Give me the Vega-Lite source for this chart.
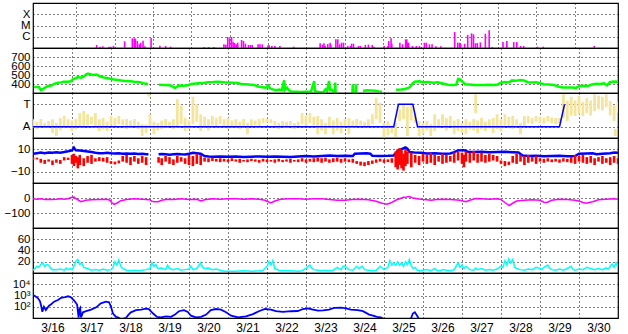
{
"$schema":"https://vega.github.io/schema/vega-lite/v6.json",
"padding":{"left":0,"top":2,"right":11,"bottom":0},
"background":"white",
"spacing":0,
"bounds":"flush",
"config":{"view":{"stroke":"black","strokeWidth":1.2},
"axis":{"ticks":false,"domain":false,"labelFont":"Liberation Sans","labelFontSize":11.5,"labelColor":"black","gridColor":"black","gridDash":[1,3],"gridOpacity":1,"gridWidth":1,"labelPadding":3,"labelOverlap":false},
"axisY":{"minExtent":32,"maxExtent":32},
"concat":{"spacing":0}},
"datasets":{
"flares":[{"t":17.53,"v":0.27},{"t":17.62,"v":0.12},{"t":17.69,"v":0.15},{"t":17.85,"v":0.12},{"t":17.9,"v":0.12},{"t":17.97,"v":0.18},{"t":18.26,"v":0.6},{"t":18.46,"v":0.86},{"t":18.51,"v":0.86},{"t":18.54,"v":0.83},{"t":18.59,"v":0.62},{"t":18.64,"v":0.33},{"t":18.68,"v":0.47},{"t":18.74,"v":0.65},{"t":18.79,"v":0.15},{"t":18.95,"v":0.89},{"t":19.18,"v":0.2},{"t":19.33,"v":0.18},{"t":19.46,"v":0.12},{"t":20.33,"v":0.09},{"t":20.45,"v":0.09},{"t":20.59,"v":0.09},{"t":20.85,"v":0.33},{"t":20.9,"v":0.3},{"t":20.95,"v":0.98},{"t":21.0,"v":0.86},{"t":21.05,"v":0.98},{"t":21.09,"v":0.53},{"t":21.13,"v":0.44},{"t":21.17,"v":0.33},{"t":21.21,"v":0.47},{"t":21.31,"v":0.71},{"t":21.36,"v":0.62},{"t":21.41,"v":0.38},{"t":21.49,"v":0.27},{"t":21.54,"v":0.27},{"t":21.59,"v":0.27},{"t":21.74,"v":0.33},{"t":21.79,"v":0.33},{"t":21.85,"v":0.33},{"t":22.0,"v":0.24},{"t":22.03,"v":0.24},{"t":22.1,"v":0.18},{"t":22.18,"v":0.18},{"t":22.31,"v":0.18},{"t":22.67,"v":0.12},{"t":23.36,"v":0.42},{"t":23.42,"v":0.3},{"t":23.46,"v":0.42},{"t":23.49,"v":0.2},{"t":23.56,"v":0.36},{"t":23.62,"v":0.47},{"t":23.64,"v":0.3},{"t":23.77,"v":0.77},{"t":23.82,"v":0.77},{"t":23.87,"v":0.33},{"t":23.92,"v":0.47},{"t":23.97,"v":0.47},{"t":24.08,"v":0.18},{"t":24.15,"v":0.18},{"t":24.18,"v":0.38},{"t":24.23,"v":0.38},{"t":24.36,"v":0.18},{"t":24.41,"v":0.18},{"t":24.54,"v":0.27},{"t":24.62,"v":0.3},{"t":24.72,"v":0.27},{"t":24.77,"v":0.12},{"t":25.03,"v":0.18},{"t":25.13,"v":0.18},{"t":25.15,"v":0.62},{"t":25.21,"v":0.86},{"t":25.23,"v":0.38},{"t":25.44,"v":0.47},{"t":25.51,"v":0.33},{"t":25.59,"v":0.77},{"t":25.62,"v":0.77},{"t":25.64,"v":0.47},{"t":25.67,"v":0.47},{"t":25.77,"v":0.18},{"t":25.87,"v":0.18},{"t":25.95,"v":0.18},{"t":26.08,"v":0.47},{"t":26.13,"v":0.47},{"t":26.21,"v":0.33},{"t":26.28,"v":0.33},{"t":26.38,"v":0.15},{"t":26.51,"v":0.15},{"t":26.87,"v":1.42},{"t":26.95,"v":0.47},{"t":27.0,"v":0.47},{"t":27.03,"v":0.33},{"t":27.13,"v":0.38},{"t":27.21,"v":1.16},{"t":27.31,"v":1.3},{"t":27.36,"v":1.22},{"t":27.41,"v":0.42},{"t":27.46,"v":0.44},{"t":27.54,"v":0.5},{"t":27.67,"v":1.27},{"t":27.77,"v":1.57},{"t":27.85,"v":0.09},{"t":28.13,"v":0.53},{"t":28.23,"v":0.62},{"t":28.41,"v":0.53},{"t":28.49,"v":0.53},{"t":28.59,"v":0.18},{"t":28.67,"v":0.18},{"t":29.03,"v":0.12},{"t":29.18,"v":0.12},{"t":30.51,"v":0.18}],
"speed":[{"s":"a","t":16.03,"v":367},{"s":"a","t":16.15,"v":367},{"s":"a","t":16.21,"v":330},{"s":"a","t":16.28,"v":352},{"s":"a","t":16.38,"v":378},{"s":"a","t":16.46,"v":380},{"s":"a","t":16.54,"v":400},{"s":"a","t":16.64,"v":415},{"s":"a","t":16.72,"v":418},{"s":"a","t":16.79,"v":426},{"s":"a","t":16.9,"v":424},{"s":"a","t":16.97,"v":430},{"s":"a","t":17.03,"v":455},{"s":"a","t":17.1,"v":465},{"s":"a","t":17.15,"v":478},{"s":"a","t":17.23,"v":470},{"s":"a","t":17.31,"v":485},{"s":"a","t":17.36,"v":505},{"s":"a","t":17.41,"v":515},{"s":"a","t":17.46,"v":510},{"s":"a","t":17.54,"v":500},{"s":"a","t":17.62,"v":505},{"s":"a","t":17.67,"v":495},{"s":"a","t":17.74,"v":480},{"s":"a","t":17.82,"v":472},{"s":"a","t":17.92,"v":465},{"s":"a","t":18.0,"v":455},{"s":"a","t":18.08,"v":450},{"s":"a","t":18.18,"v":445},{"s":"a","t":18.26,"v":440},{"s":"a","t":18.38,"v":432},{"s":"a","t":18.51,"v":430},{"s":"a","t":18.59,"v":425},{"s":"a","t":18.69,"v":422},{"s":"a","t":18.77,"v":418},{"s":"a","t":18.85,"v":405},{"s":"a","t":18.95,"v":400},
{"s":"b","t":19.23,"v":392},{"s":"b","t":19.36,"v":390},{"s":"b","t":19.49,"v":388},{"s":"b","t":19.59,"v":370},{"s":"b","t":19.64,"v":355},{"s":"b","t":19.69,"v":370},{"s":"b","t":19.74,"v":382},{"s":"b","t":19.87,"v":380},{"s":"b","t":19.97,"v":385},{"s":"b","t":20.05,"v":400},{"s":"b","t":20.18,"v":405},{"s":"b","t":20.31,"v":410},{"s":"b","t":20.38,"v":412},{"s":"b","t":20.49,"v":420},{"s":"b","t":20.62,"v":422},{"s":"b","t":20.74,"v":425},{"s":"b","t":20.9,"v":420},{"s":"b","t":21.0,"v":418},{"s":"b","t":21.13,"v":415},{"s":"b","t":21.26,"v":410},{"s":"b","t":21.33,"v":400},{"s":"b","t":21.46,"v":396},{"s":"b","t":21.59,"v":393},{"s":"b","t":21.67,"v":390},{"s":"b","t":21.77,"v":372},{"s":"b","t":21.85,"v":367},{"s":"b","t":21.92,"v":362},{"s":"b","t":21.97,"v":360},{"s":"b","t":22.03,"v":385},{"s":"b","t":22.08,"v":350},{"s":"b","t":22.15,"v":340},{"s":"b","t":22.23,"v":332},{"s":"b","t":22.31,"v":338},{"s":"b","t":22.38,"v":330},{"s":"b","t":22.44,"v":441},{"s":"b","t":22.46,"v":335},{"s":"b","t":22.51,"v":360},{"s":"b","t":22.56,"v":330},{"s":"b","t":22.62,"v":318},{"s":"b","t":22.74,"v":315},{"s":"b","t":22.87,"v":312},{"s":"b","t":23.0,"v":315},{"s":"b","t":23.13,"v":318},{"s":"b","t":23.21,"v":433},{"s":"b","t":23.23,"v":320},{"s":"b","t":23.33,"v":312},{"s":"b","t":23.44,"v":305},{"s":"b","t":23.5,"v":341},{"s":"b","t":23.54,"v":320},{"s":"b","t":23.59,"v":433},{"s":"b","t":23.62,"v":330},{"s":"b","t":23.67,"v":335},{"s":"b","t":23.72,"v":310},
{"s":"c","t":23.74,"v":300},{"s":"c","t":23.75,"v":415},{"s":"c","t":23.76,"v":300},
{"s":"d","t":24.19,"v":300},{"s":"d","t":24.2,"v":396},{"s":"d","t":24.21,"v":300},
{"s":"e","t":24.27,"v":300},{"s":"e","t":24.28,"v":396},{"s":"e","t":24.29,"v":300},
{"s":"f","t":24.46,"v":322},{"s":"f","t":24.56,"v":330},{"s":"f","t":24.67,"v":328},{"s":"f","t":24.77,"v":325},{"s":"f","t":24.87,"v":318},{"s":"f","t":24.95,"v":315},
{"s":"g","t":25.31,"v":335},{"s":"g","t":25.44,"v":340},{"s":"g","t":25.54,"v":345},{"s":"g","t":25.64,"v":360},{"s":"g","t":25.69,"v":378},{"s":"g","t":25.74,"v":410},{"s":"g","t":25.79,"v":426},{"s":"g","t":25.9,"v":430},{"s":"g","t":26.0,"v":420},{"s":"g","t":26.13,"v":422},{"s":"g","t":26.26,"v":415},{"s":"g","t":26.38,"v":420},{"s":"g","t":26.51,"v":405},{"s":"g","t":26.64,"v":392},{"s":"g","t":26.77,"v":388},{"s":"g","t":26.85,"v":390},{"s":"g","t":26.9,"v":455},{"s":"g","t":26.95,"v":450},{"s":"g","t":27.0,"v":430},{"s":"g","t":27.08,"v":398},{"s":"g","t":27.18,"v":395},{"s":"g","t":27.31,"v":388},{"s":"g","t":27.44,"v":390},{"s":"g","t":27.56,"v":388},{"s":"g","t":27.69,"v":392},{"s":"g","t":27.82,"v":390},{"s":"g","t":27.92,"v":395},{"s":"g","t":28.0,"v":415},{"s":"g","t":28.1,"v":422},{"s":"g","t":28.21,"v":418},{"s":"g","t":28.28,"v":440},{"s":"g","t":28.38,"v":435},{"s":"g","t":28.49,"v":445},{"s":"g","t":28.59,"v":438},{"s":"g","t":28.69,"v":420},{"s":"g","t":28.79,"v":418},{"s":"g","t":28.9,"v":420},{"s":"g","t":29.0,"v":410},{"s":"g","t":29.1,"v":398},{"s":"g","t":29.23,"v":395},{"s":"g","t":29.36,"v":390},{"s":"g","t":29.46,"v":372},{"s":"g","t":29.59,"v":362},{"s":"g","t":29.72,"v":360},{"s":"g","t":29.85,"v":362},{"s":"g","t":29.92,"v":355},{"s":"g","t":30.0,"v":375},{"s":"g","t":30.1,"v":380},{"s":"g","t":30.23,"v":378},{"s":"g","t":30.33,"v":395},{"s":"g","t":30.44,"v":402},{"s":"g","t":30.54,"v":400},{"s":"g","t":30.64,"v":408},{"s":"g","t":30.72,"v":385},{"s":"g","t":30.79,"v":420},{"s":"g","t":30.9,"v":428},{"s":"g","t":31.0,"v":425}],
"phi":[{"t":16.0,"lo":80,"hi":150},{"t":16.1,"lo":72,"hi":130},{"t":16.2,"lo":90,"hi":152},{"t":16.3,"lo":80,"hi":120},{"t":16.4,"lo":95,"hi":136},{"t":16.5,"lo":40,"hi":150},{"t":16.6,"lo":16,"hi":120},{"t":16.7,"lo":60,"hi":160},{"t":16.8,"lo":85,"hi":176},{"t":16.9,"lo":80,"hi":150},{"t":17.0,"lo":56,"hi":140},{"t":17.1,"lo":70,"hi":152},{"t":17.2,"lo":90,"hi":200},{"t":17.3,"lo":80,"hi":216},{"t":17.4,"lo":100,"hi":190},{"t":17.5,"lo":110,"hi":170},{"t":17.6,"lo":80,"hi":200},{"t":17.7,"lo":56,"hi":150},{"t":17.8,"lo":70,"hi":160},{"t":17.9,"lo":56,"hi":130},{"t":18.0,"lo":100,"hi":176},{"t":18.1,"lo":96,"hi":160},{"t":18.2,"lo":110,"hi":176},{"t":18.3,"lo":100,"hi":150},{"t":18.4,"lo":72,"hi":152},{"t":18.5,"lo":80,"hi":140},{"t":18.6,"lo":90,"hi":152},{"t":18.7,"lo":72,"hi":130},{"t":18.8,"lo":16,"hi":112},{"t":18.9,"lo":40,"hi":110},{"t":18.97,"lo":330,"hi":352},{"t":19.0,"lo":80,"hi":190},{"t":19.1,"lo":30,"hi":130},{"t":19.2,"lo":60,"hi":120},{"t":19.3,"lo":72,"hi":140},{"t":19.4,"lo":80,"hi":152},{"t":19.5,"lo":90,"hi":130},{"t":19.6,"lo":72,"hi":150},{"t":19.7,"lo":80,"hi":310},{"t":19.8,"lo":110,"hi":260},{"t":19.9,"lo":56,"hi":160},{"t":20.0,"lo":70,"hi":140},{"t":20.1,"lo":110,"hi":330},{"t":20.2,"lo":130,"hi":270},{"t":20.3,"lo":56,"hi":190},{"t":20.4,"lo":80,"hi":170},{"t":20.5,"lo":60,"hi":150},{"t":20.6,"lo":100,"hi":176},{"t":20.7,"lo":80,"hi":160},{"t":20.8,"lo":110,"hi":176},{"t":20.9,"lo":90,"hi":150},{"t":21.0,"lo":72,"hi":160},{"t":21.1,"lo":80,"hi":140},{"t":21.2,"lo":96,"hi":150},{"t":21.3,"lo":72,"hi":130},{"t":21.4,"lo":80,"hi":152},{"t":21.5,"lo":30,"hi":120},{"t":21.6,"lo":90,"hi":150},{"t":21.7,"lo":100,"hi":140},{"t":21.8,"lo":80,"hi":152},{"t":21.9,"lo":120,"hi":160},{"t":22.0,"lo":125,"hi":155},{"t":22.1,"lo":120,"hi":150},{"t":22.2,"lo":100,"hi":136},{"t":22.3,"lo":72,"hi":120},{"t":22.4,"lo":90,"hi":136},{"t":22.5,"lo":80,"hi":130},{"t":22.6,"lo":100,"hi":136},{"t":22.7,"lo":72,"hi":120},{"t":22.8,"lo":90,"hi":130},{"t":22.9,"lo":110,"hi":200},{"t":23.0,"lo":96,"hi":180},{"t":23.1,"lo":120,"hi":200},{"t":23.2,"lo":100,"hi":170},{"t":23.3,"lo":30,"hi":176},{"t":23.4,"lo":60,"hi":150},{"t":23.5,"lo":30,"hi":120},{"t":23.6,"lo":80,"hi":170},{"t":23.7,"lo":30,"hi":140},{"t":23.8,"lo":60,"hi":160},{"t":23.9,"lo":40,"hi":130},{"t":24.0,"lo":90,"hi":150},{"t":24.1,"lo":30,"hi":160},{"t":24.2,"lo":80,"hi":140},{"t":24.3,"lo":90,"hi":152},{"t":24.4,"lo":100,"hi":140},{"t":24.5,"lo":80,"hi":130},{"t":24.6,"lo":95,"hi":150},{"t":24.7,"lo":110,"hi":190},{"t":24.8,"lo":150,"hi":320},{"t":24.9,"lo":120,"hi":280},{"t":25.0,"lo":0,"hi":120},{"t":25.1,"lo":20,"hi":136},{"t":25.2,"lo":40,"hi":100},{"t":25.3,"lo":10,"hi":120},{"t":25.4,"lo":136,"hi":230},{"t":25.5,"lo":150,"hi":270},{"t":25.6,"lo":16,"hi":250},{"t":25.7,"lo":140,"hi":260},{"t":25.8,"lo":120,"hi":200},{"t":25.9,"lo":16,"hi":136},{"t":26.0,"lo":30,"hi":120},{"t":26.1,"lo":60,"hi":136},{"t":26.2,"lo":16,"hi":110},{"t":26.3,"lo":56,"hi":190},{"t":26.4,"lo":80,"hi":150},{"t":26.5,"lo":100,"hi":190},{"t":26.6,"lo":60,"hi":160},{"t":26.7,"lo":90,"hi":176},{"t":26.8,"lo":30,"hi":140},{"t":26.9,"lo":56,"hi":152},{"t":27.0,"lo":40,"hi":120},{"t":27.1,"lo":30,"hi":150},{"t":27.2,"lo":70,"hi":130},{"t":27.3,"lo":60,"hi":152},{"t":27.35,"lo":200,"hi":350},{"t":27.4,"lo":40,"hi":140},{"t":27.5,"lo":70,"hi":160},{"t":27.6,"lo":56,"hi":130},{"t":27.7,"lo":80,"hi":150},{"t":27.8,"lo":40,"hi":160},{"t":27.9,"lo":70,"hi":190},{"t":28.0,"lo":56,"hi":150},{"t":28.1,"lo":100,"hi":190},{"t":28.2,"lo":80,"hi":170},{"t":28.3,"lo":72,"hi":176},{"t":28.4,"lo":100,"hi":150},{"t":28.5,"lo":30,"hi":120},{"t":28.6,"lo":90,"hi":176},{"t":28.7,"lo":120,"hi":176},{"t":28.8,"lo":110,"hi":160},{"t":28.9,"lo":130,"hi":176},{"t":29.0,"lo":120,"hi":170},{"t":29.1,"lo":115,"hi":160},{"t":29.2,"lo":130,"hi":176},{"t":29.3,"lo":120,"hi":165},{"t":29.4,"lo":110,"hi":160},{"t":29.5,"lo":120,"hi":160},{"t":29.6,"lo":160,"hi":350},{"t":29.7,"lo":136,"hi":300},{"t":29.8,"lo":180,"hi":330},{"t":29.9,"lo":176,"hi":300},{"t":30.0,"lo":190,"hi":336},{"t":30.1,"lo":176,"hi":290},{"t":30.2,"lo":200,"hi":320},{"t":30.3,"lo":180,"hi":300},{"t":30.4,"lo":216,"hi":350},{"t":30.5,"lo":230,"hi":340},{"t":30.6,"lo":220,"hi":330},{"t":30.7,"lo":250,"hi":350},{"t":30.8,"lo":180,"hi":296},{"t":30.9,"lo":136,"hi":260},{"t":30.93,"lo":16,"hi":72},{"t":31.0,"lo":200,"hi":290}],
"sector":[{"t":16.0,"v":90},{"t":25.25,"v":90},{"t":25.37,"v":270},{"t":25.74,"v":270},{"t":25.86,"v":90},{"t":29.5,"v":90},{"t":29.63,"v":270}],
"bt":[{"s":"a","t":16.0,"v":6.0},{"s":"a","t":16.1,"v":6.5},{"s":"a","t":16.2,"v":7.0},{"s":"a","t":16.3,"v":6.5},{"s":"a","t":16.4,"v":7.2},{"s":"a","t":16.5,"v":7.0},{"s":"a","t":16.6,"v":7.3},{"s":"a","t":16.7,"v":7.0},{"s":"a","t":16.8,"v":7.5},{"s":"a","t":16.9,"v":8.2},{"s":"a","t":17.0,"v":9.0},{"s":"a","t":17.05,"v":11.4},{"s":"a","t":17.1,"v":9.0},{"s":"a","t":17.2,"v":8.8},{"s":"a","t":17.3,"v":8.4},{"s":"a","t":17.4,"v":8.0},{"s":"a","t":17.5,"v":7.5},{"s":"a","t":17.6,"v":6.8},{"s":"a","t":17.7,"v":6.4},{"s":"a","t":17.8,"v":6.5},{"s":"a","t":17.9,"v":6.8},{"s":"a","t":18.0,"v":6.4},{"s":"a","t":18.1,"v":6.2},{"s":"a","t":18.2,"v":6.5},{"s":"a","t":18.3,"v":6.0},{"s":"a","t":18.4,"v":6.2},{"s":"a","t":18.5,"v":6.0},{"s":"a","t":18.6,"v":6.3},{"s":"a","t":18.7,"v":5.8},{"s":"a","t":18.8,"v":6.0},{"s":"a","t":18.9,"v":5.5},{"s":"a","t":18.96,"v":5.5},
{"s":"b","t":19.22,"v":5.5},{"s":"b","t":19.3,"v":5.8},{"s":"b","t":19.4,"v":5.5},{"s":"b","t":19.5,"v":5.2},{"s":"b","t":19.6,"v":5.5},{"s":"b","t":19.7,"v":5.8},{"s":"b","t":19.8,"v":5.5},{"s":"b","t":19.9,"v":5.3},{"s":"b","t":20.0,"v":6.0},{"s":"b","t":20.1,"v":6.8},{"s":"b","t":20.2,"v":6.5},{"s":"b","t":20.3,"v":6.0},{"s":"b","t":20.4,"v":4.0},{"s":"b","t":20.5,"v":3.5},{"s":"b","t":20.6,"v":3.4},{"s":"b","t":20.8,"v":3.6},{"s":"b","t":21.0,"v":3.3},{"s":"b","t":21.2,"v":3.5},{"s":"b","t":21.4,"v":3.2},{"s":"b","t":21.6,"v":3.4},{"s":"b","t":21.8,"v":3.6},{"s":"b","t":22.0,"v":3.3},{"s":"b","t":22.2,"v":3.5},{"s":"b","t":22.4,"v":3.4},{"s":"b","t":22.6,"v":3.2},{"s":"b","t":22.8,"v":3.6},{"s":"b","t":23.0,"v":4.0},{"s":"b","t":23.2,"v":3.6},{"s":"b","t":23.4,"v":4.0},{"s":"b","t":23.6,"v":4.5},{"s":"b","t":23.8,"v":4.0},{"s":"b","t":24.0,"v":4.2},{"s":"b","t":24.2,"v":4.0},{"s":"b","t":24.25,"v":6.0},{"s":"b","t":24.4,"v":6.2},{"s":"b","t":24.55,"v":6.4},{"s":"b","t":24.65,"v":6.0},{"s":"b","t":24.7,"v":4.2},{"s":"b","t":24.9,"v":4.0},{"s":"b","t":25.1,"v":4.2},{"s":"b","t":25.25,"v":4.5},{"s":"b","t":25.35,"v":8.4},{"s":"b","t":25.45,"v":10},{"s":"b","t":25.55,"v":11.6},{"s":"b","t":25.6,"v":10.5},{"s":"b","t":25.65,"v":7.5},{"s":"b","t":25.8,"v":7.0},{"s":"b","t":25.95,"v":6.8},{"s":"b","t":26.1,"v":6.2},{"s":"b","t":26.3,"v":6.4},{"s":"b","t":26.5,"v":6.0},{"s":"b","t":26.7,"v":6.3},{"s":"b","t":26.8,"v":7.5},{"s":"b","t":26.9,"v":9.0},{"s":"b","t":27.05,"v":9.2},{"s":"b","t":27.15,"v":7.8},{"s":"b","t":27.3,"v":7.6},{"s":"b","t":27.5,"v":7.8},{"s":"b","t":27.7,"v":7.4},{"s":"b","t":27.9,"v":7.6},{"s":"b","t":28.1,"v":7.8},{"s":"b","t":28.3,"v":7.4},{"s":"b","t":28.45,"v":7.2},{"s":"b","t":28.55,"v":4.5},{"s":"b","t":28.7,"v":4.0},{"s":"b","t":28.9,"v":4.2},{"s":"b","t":29.1,"v":3.8},{"s":"b","t":29.3,"v":4.0},{"s":"b","t":29.5,"v":4.2},{"s":"b","t":29.7,"v":3.8},{"s":"b","t":29.9,"v":4.0},{"s":"b","t":30.0,"v":6.0},{"s":"b","t":30.2,"v":6.2},{"s":"b","t":30.35,"v":6.4},{"s":"b","t":30.45,"v":5.5},{"s":"b","t":30.6,"v":6.0},{"s":"b","t":30.8,"v":6.5},{"s":"b","t":30.9,"v":7.2},{"s":"b","t":31.0,"v":6.8}],
"bz":[{"t":16.0,"lo":0.5,"hi":3},{"t":16.1,"lo":1,"hi":2.5},{"t":16.2,"lo":-2,"hi":1.5},{"t":16.3,"lo":-3,"hi":0.5},{"t":16.4,"lo":-1,"hi":1},{"t":16.5,"lo":-4,"hi":0},{"t":16.6,"lo":-2,"hi":1},{"t":16.7,"lo":-3,"hi":0.5},{"t":16.8,"lo":0,"hi":3},{"t":16.9,"lo":0.5,"hi":2.5},{"t":17.0,"lo":-3,"hi":5},{"t":17.05,"lo":-5,"hi":6},{"t":17.1,"lo":-2,"hi":4},{"t":17.15,"lo":-7,"hi":3},{"t":17.2,"lo":-4,"hi":5},{"t":17.3,"lo":-5,"hi":2},{"t":17.4,"lo":-2,"hi":4},{"t":17.5,"lo":-3,"hi":5},{"t":17.6,"lo":-1,"hi":2},{"t":17.7,"lo":-0.5,"hi":3},{"t":17.8,"lo":-1,"hi":2.5},{"t":17.9,"lo":-2,"hi":3},{"t":18.0,"lo":-3,"hi":-0.5},{"t":18.1,"lo":-3.5,"hi":-1},{"t":18.2,"lo":-2.5,"hi":0},{"t":18.3,"lo":-1,"hi":4},{"t":18.4,"lo":-2,"hi":5},{"t":18.5,"lo":-4,"hi":3},{"t":18.6,"lo":-1,"hi":4},{"t":18.7,"lo":-3,"hi":2},{"t":18.8,"lo":-2,"hi":4},{"t":18.9,"lo":-4,"hi":3},{"t":19.22,"lo":-2,"hi":3},{"t":19.3,"lo":-4,"hi":2},{"t":19.4,"lo":-1,"hi":4},{"t":19.5,"lo":-3,"hi":3},{"t":19.6,"lo":-4,"hi":1},{"t":19.7,"lo":-2,"hi":4},{"t":19.8,"lo":-1,"hi":3},{"t":19.9,"lo":-3,"hi":2},{"t":20.0,"lo":-4,"hi":5},{"t":20.1,"lo":-5,"hi":4},{"t":20.2,"lo":-3,"hi":6},{"t":20.3,"lo":-4,"hi":5},{"t":20.4,"lo":-1,"hi":2.5},{"t":20.5,"lo":-1.5,"hi":2},{"t":20.6,"lo":-0.5,"hi":2.5},{"t":20.7,"lo":-1,"hi":1.5},{"t":20.8,"lo":-1.5,"hi":2},{"t":20.9,"lo":-1,"hi":1.5},{"t":21.0,"lo":-1.5,"hi":1},{"t":21.1,"lo":-0.5,"hi":2},{"t":21.2,"lo":-1,"hi":1},{"t":21.3,"lo":-2,"hi":1.5},{"t":21.4,"lo":-1,"hi":0.5},{"t":21.5,"lo":-1.5,"hi":1},{"t":21.6,"lo":-0.5,"hi":1.5},{"t":21.7,"lo":-1,"hi":1},{"t":21.8,"lo":-2,"hi":0.5},{"t":21.9,"lo":-1,"hi":1.5},{"t":22.0,"lo":-1.5,"hi":1},{"t":22.1,"lo":-1,"hi":0.5},{"t":22.2,"lo":-2,"hi":1},{"t":22.3,"lo":-1,"hi":1.5},{"t":22.4,"lo":-1.5,"hi":0.5},{"t":22.5,"lo":-1,"hi":1},{"t":22.6,"lo":-2,"hi":1.5},{"t":22.7,"lo":-1,"hi":0.5},{"t":22.8,"lo":-1.5,"hi":1},{"t":22.9,"lo":-1,"hi":2},{"t":23.0,"lo":-2,"hi":1},{"t":23.1,"lo":-1,"hi":1.5},{"t":23.2,"lo":-1.5,"hi":2},{"t":23.3,"lo":-1,"hi":2.5},{"t":23.4,"lo":-2,"hi":2},{"t":23.5,"lo":-1,"hi":2.5},{"t":23.6,"lo":-2,"hi":1},{"t":23.7,"lo":-1.5,"hi":2},{"t":23.8,"lo":-1,"hi":2.5},{"t":23.9,"lo":-2,"hi":1.5},{"t":24.0,"lo":-1,"hi":2},{"t":24.1,"lo":-1.5,"hi":1},{"t":24.2,"lo":-2,"hi":1.5},{"t":24.3,"lo":-3,"hi":-0.5},{"t":24.4,"lo":-4.5,"hi":-1},{"t":24.5,"lo":-5,"hi":-1.5},{"t":24.6,"lo":-4,"hi":-0.5},{"t":24.7,"lo":-3,"hi":0},{"t":24.8,"lo":-2,"hi":1},{"t":24.9,"lo":-1,"hi":1.5},{"t":25.0,"lo":-2,"hi":1},{"t":25.1,"lo":-1.5,"hi":1},{"t":25.2,"lo":-2,"hi":2},{"t":25.3,"lo":-6,"hi":8},{"t":25.35,"lo":-8,"hi":10},{"t":25.4,"lo":-4,"hi":11},{"t":25.45,"lo":-7,"hi":9},{"t":25.5,"lo":-9,"hi":6},{"t":25.55,"lo":-5,"hi":10},{"t":25.6,"lo":-3,"hi":8},{"t":25.7,"lo":-6,"hi":7},{"t":25.8,"lo":-2,"hi":5},{"t":25.9,"lo":-4,"hi":4},{"t":26.0,"lo":-1,"hi":6},{"t":26.1,"lo":-3,"hi":5},{"t":26.2,"lo":-2,"hi":7},{"t":26.3,"lo":-4,"hi":5},{"t":26.4,"lo":-1,"hi":4},{"t":26.5,"lo":-3,"hi":6},{"t":26.6,"lo":-2,"hi":5},{"t":26.7,"lo":-1,"hi":4},{"t":26.8,"lo":-2,"hi":7},{"t":26.9,"lo":0,"hi":8},{"t":27.0,"lo":-3,"hi":7},{"t":27.05,"lo":-6,"hi":5},{"t":27.1,"lo":-1,"hi":8},{"t":27.2,"lo":-2,"hi":7},{"t":27.3,"lo":0,"hi":8.5},{"t":27.4,"lo":-2,"hi":6},{"t":27.5,"lo":-1,"hi":7},{"t":27.6,"lo":-2,"hi":5},{"t":27.7,"lo":-1,"hi":6},{"t":27.8,"lo":0,"hi":5},{"t":27.9,"lo":-1,"hi":4},{"t":28.0,"lo":-3,"hi":0},{"t":28.1,"lo":-5,"hi":-0.5},{"t":28.2,"lo":-4,"hi":-1},{"t":28.3,"lo":-2,"hi":4},{"t":28.4,"lo":-3,"hi":6},{"t":28.5,"lo":-1,"hi":5},{"t":28.6,"lo":-4,"hi":4},{"t":28.7,"lo":-2,"hi":5},{"t":28.8,"lo":-1,"hi":3},{"t":28.9,"lo":-3,"hi":4},{"t":29.0,"lo":-1,"hi":2},{"t":29.1,"lo":-2,"hi":1.5},{"t":29.2,"lo":-1,"hi":2},{"t":29.3,"lo":-1.5,"hi":1},{"t":29.4,"lo":-1,"hi":1.5},{"t":29.5,"lo":-2,"hi":1},{"t":29.6,"lo":-1,"hi":2},{"t":29.7,"lo":-1.5,"hi":1.5},{"t":29.8,"lo":-2,"hi":3},{"t":29.9,"lo":-3,"hi":5},{"t":30.0,"lo":-1,"hi":4},{"t":30.1,"lo":-2,"hi":5},{"t":30.2,"lo":-3,"hi":3},{"t":30.3,"lo":-2,"hi":4},{"t":30.4,"lo":-4,"hi":2},{"t":30.5,"lo":-1,"hi":3},{"t":30.6,"lo":-3,"hi":4},{"t":30.7,"lo":-2,"hi":2},{"t":30.8,"lo":-4,"hi":3},{"t":30.9,"lo":-2,"hi":4},{"t":31.0,"lo":-3,"hi":2}],
"dst":[{"t":16.0,"v":-5},{"t":16.1,"v":-8},{"t":16.2,"v":-5},{"t":16.3,"v":-10},{"t":16.4,"v":-8},{"t":16.5,"v":-10},{"t":16.6,"v":-8},{"t":16.7,"v":-5},{"t":16.8,"v":-8},{"t":16.9,"v":-5},{"t":17.0,"v":5},{"t":17.05,"v":6},{"t":17.1,"v":-5},{"t":17.17,"v":-15},{"t":17.23,"v":-25},{"t":17.35,"v":-15},{"t":17.5,"v":-12},{"t":17.7,"v":-10},{"t":17.9,"v":-8},{"t":17.97,"v":-15},{"t":18.02,"v":-30},{"t":18.08,"v":-42},{"t":18.15,"v":-35},{"t":18.25,"v":-18},{"t":18.4,"v":-10},{"t":18.6,"v":-5},{"t":18.8,"v":-8},{"t":19.0,"v":-12},{"t":19.05,"v":-22},{"t":19.12,"v":-25},{"t":19.21,"v":-25},{"t":19.3,"v":-15},{"t":19.45,"v":-8},{"t":19.6,"v":-10},{"t":19.8,"v":-5},{"t":20.0,"v":-10},{"t":20.2,"v":-8},{"t":20.31,"v":-20},{"t":20.4,"v":-12},{"t":20.6,"v":-5},{"t":20.8,"v":-8},{"t":21.0,"v":-5},{"t":21.2,"v":-5},{"t":21.4,"v":-8},{"t":21.6,"v":-5},{"t":21.8,"v":-8},{"t":21.95,"v":-15},{"t":22.03,"v":-25},{"t":22.1,"v":-33},{"t":22.2,"v":-20},{"t":22.35,"v":-8},{"t":22.6,"v":-5},{"t":22.8,"v":-5},{"t":23.0,"v":-8},{"t":23.2,"v":-5},{"t":23.4,"v":-5},{"t":23.6,"v":-10},{"t":23.8,"v":-15},{"t":24.0,"v":-15},{"t":24.2,"v":-10},{"t":24.4,"v":-8},{"t":24.6,"v":-12},{"t":24.8,"v":-22},{"t":24.95,"v":-35},{"t":25.08,"v":-42},{"t":25.18,"v":-32},{"t":25.3,"v":-15},{"t":25.4,"v":-5},{"t":25.5,"v":5},{"t":25.58,"v":7},{"t":25.65,"v":10},{"t":25.72,"v":2},{"t":25.85,"v":-5},{"t":26.0,"v":-10},{"t":26.1,"v":-12},{"t":26.21,"v":-15},{"t":26.35,"v":-10},{"t":26.5,"v":-8},{"t":26.7,"v":-10},{"t":26.95,"v":-15},{"t":27.1,"v":-25},{"t":27.2,"v":-15},{"t":27.35,"v":-3},{"t":27.5,"v":-5},{"t":27.7,"v":-8},{"t":27.9,"v":-5},{"t":28.0,"v":-10},{"t":28.1,"v":-30},{"t":28.21,"v":-50},{"t":28.3,"v":-35},{"t":28.4,"v":-20},{"t":28.6,"v":-15},{"t":28.8,"v":-12},{"t":29.0,"v":-15},{"t":29.1,"v":-28},{"t":29.18,"v":-30},{"t":29.3,"v":-15},{"t":29.5,"v":-8},{"t":29.7,"v":-10},{"t":29.9,"v":-15},{"t":30.0,"v":-20},{"t":30.1,"v":-30},{"t":30.18,"v":-35},{"t":30.35,"v":-25},{"t":30.5,"v":-12},{"t":30.7,"v":-8},{"t":30.9,"v":-5},{"t":31.0,"v":-8}],
"kp":[{"t":16.0,"v":5},{"t":16.05,"v":8},{"t":16.1,"v":12},{"t":16.15,"v":10},{"t":16.2,"v":15},{"t":16.25,"v":18},{"t":16.3,"v":12},{"t":16.35,"v":15},{"t":16.4,"v":14},{"t":16.45,"v":9},{"t":16.5,"v":6},{"t":16.6,"v":6},{"t":16.7,"v":7},{"t":16.8,"v":5},{"t":16.85,"v":9},{"t":16.9,"v":6},{"t":16.95,"v":8},{"t":17.0,"v":6},{"t":17.05,"v":12},{"t":17.1,"v":21},{"t":17.15,"v":24},{"t":17.2,"v":15},{"t":17.25,"v":18},{"t":17.3,"v":10},{"t":17.4,"v":8},{"t":17.5,"v":5},{"t":17.6,"v":6},{"t":17.7,"v":5},{"t":17.8,"v":7},{"t":17.9,"v":5},{"t":18.0,"v":6},{"t":18.05,"v":10},{"t":18.1,"v":20},{"t":18.15,"v":14},{"t":18.2,"v":23},{"t":18.25,"v":12},{"t":18.3,"v":8},{"t":18.4,"v":5},{"t":18.5,"v":4},{"t":18.6,"v":5},{"t":18.7,"v":4},{"t":18.8,"v":5},{"t":18.9,"v":6},{"t":19.0,"v":8},{"t":19.05,"v":18},{"t":19.1,"v":12},{"t":19.15,"v":15},{"t":19.2,"v":8},{"t":19.3,"v":9},{"t":19.4,"v":6},{"t":19.45,"v":14},{"t":19.5,"v":8},{"t":19.6,"v":6},{"t":19.7,"v":8},{"t":19.8,"v":5},{"t":19.9,"v":6},{"t":20.0,"v":7},{"t":20.05,"v":12},{"t":20.1,"v":6},{"t":20.2,"v":8},{"t":20.3,"v":18},{"t":20.35,"v":10},{"t":20.4,"v":8},{"t":20.5,"v":9},{"t":20.6,"v":6},{"t":20.7,"v":7},{"t":20.8,"v":5},{"t":20.9,"v":3},{"t":21.0,"v":3},{"t":21.2,"v":3},{"t":21.4,"v":4},{"t":21.6,"v":3},{"t":21.8,"v":4},{"t":21.9,"v":5},{"t":22.0,"v":12},{"t":22.05,"v":20},{"t":22.1,"v":14},{"t":22.15,"v":22},{"t":22.2,"v":8},{"t":22.3,"v":5},{"t":22.4,"v":4},{"t":22.6,"v":4},{"t":22.8,"v":3},{"t":22.9,"v":4},{"t":23.0,"v":8},{"t":23.05,"v":12},{"t":23.1,"v":14},{"t":23.15,"v":8},{"t":23.2,"v":6},{"t":23.3,"v":5},{"t":23.4,"v":4},{"t":23.5,"v":5},{"t":23.6,"v":4},{"t":23.7,"v":5},{"t":23.8,"v":10},{"t":23.9,"v":6},{"t":23.95,"v":12},{"t":24.0,"v":12},{"t":24.1,"v":6},{"t":24.2,"v":5},{"t":24.3,"v":12},{"t":24.35,"v":8},{"t":24.45,"v":12},{"t":24.5,"v":6},{"t":24.6,"v":5},{"t":24.7,"v":4},{"t":24.8,"v":5},{"t":24.9,"v":12},{"t":25.0,"v":6},{"t":25.1,"v":10},{"t":25.15,"v":22},{"t":25.2,"v":14},{"t":25.25,"v":18},{"t":25.3,"v":14},{"t":25.35,"v":20},{"t":25.4,"v":14},{"t":25.45,"v":18},{"t":25.5,"v":12},{"t":25.55,"v":20},{"t":25.6,"v":15},{"t":25.65,"v":24},{"t":25.7,"v":12},{"t":25.75,"v":8},{"t":25.8,"v":10},{"t":25.85,"v":5},{"t":25.9,"v":4},{"t":26.0,"v":5},{"t":26.1,"v":6},{"t":26.2,"v":4},{"t":26.3,"v":8},{"t":26.35,"v":5},{"t":26.45,"v":4},{"t":26.5,"v":6},{"t":26.6,"v":5},{"t":26.7,"v":4},{"t":26.8,"v":6},{"t":26.85,"v":12},{"t":26.9,"v":18},{"t":26.95,"v":10},{"t":27.0,"v":14},{"t":27.05,"v":8},{"t":27.1,"v":12},{"t":27.2,"v":6},{"t":27.3,"v":5},{"t":27.35,"v":9},{"t":27.4,"v":6},{"t":27.5,"v":8},{"t":27.6,"v":5},{"t":27.7,"v":6},{"t":27.8,"v":5},{"t":27.9,"v":7},{"t":28.0,"v":12},{"t":28.05,"v":10},{"t":28.1,"v":22},{"t":28.15,"v":14},{"t":28.2,"v":25},{"t":28.25,"v":18},{"t":28.3,"v":24},{"t":28.35,"v":10},{"t":28.4,"v":8},{"t":28.5,"v":6},{"t":28.6,"v":5},{"t":28.7,"v":7},{"t":28.8,"v":6},{"t":28.9,"v":10},{"t":29.0,"v":8},{"t":29.05,"v":6},{"t":29.1,"v":10},{"t":29.2,"v":14},{"t":29.25,"v":8},{"t":29.3,"v":6},{"t":29.4,"v":5},{"t":29.5,"v":7},{"t":29.6,"v":5},{"t":29.7,"v":8},{"t":29.8,"v":12},{"t":29.85,"v":6},{"t":29.9,"v":5},{"t":30.0,"v":7},{"t":30.1,"v":6},{"t":30.2,"v":10},{"t":30.3,"v":8},{"t":30.4,"v":6},{"t":30.5,"v":8},{"t":30.6,"v":6},{"t":30.7,"v":9},{"t":30.75,"v":7},{"t":30.8,"v":12},{"t":30.85,"v":16},{"t":30.9,"v":10},{"t":30.95,"v":18},{"t":31.0,"v":10}],
"elec":[{"s":"a","t":16.0,"v":1096},{"s":"a","t":16.05,"v":900},{"s":"a","t":16.13,"v":562},{"s":"a","t":16.18,"v":300},{"s":"a","t":16.21,"v":117},{"s":"a","t":16.24,"v":36},{"s":"a","t":16.28,"v":100},{"s":"a","t":16.33,"v":50},{"s":"a","t":16.38,"v":90},{"s":"a","t":16.41,"v":126},{"s":"a","t":16.46,"v":158},{"s":"a","t":16.54,"v":282},{"s":"a","t":16.64,"v":398},{"s":"a","t":16.72,"v":631},{"s":"a","t":16.82,"v":708},{"s":"a","t":16.9,"v":851},{"s":"a","t":16.97,"v":708},{"s":"a","t":17.05,"v":372},{"s":"a","t":17.13,"v":158},{"s":"a","t":17.17,"v":10.7},{"s":"a","t":17.19,"v":60},{"s":"a","t":17.21,"v":79},{"s":"a","t":17.23,"v":11.2},{"s":"a","t":17.26,"v":20},{"s":"a","t":17.28,"v":32},{"s":"a","t":17.36,"v":40},{"s":"a","t":17.49,"v":56},{"s":"a","t":17.62,"v":89},{"s":"a","t":17.74,"v":200},{"s":"a","t":17.87,"v":282},{"s":"a","t":17.95,"v":251},{"s":"a","t":18.0,"v":100},{"s":"a","t":18.05,"v":25},{"s":"a","t":18.13,"v":12.6},{"s":"a","t":18.18,"v":11.2},{"s":"a","t":18.26,"v":7.9},{"s":"a","t":18.38,"v":10},{"s":"a","t":18.45,"v":20},{"s":"a","t":18.51,"v":32},{"s":"a","t":18.64,"v":50},{"s":"a","t":18.77,"v":56},{"s":"a","t":18.9,"v":68},{"s":"a","t":18.97,"v":63},{"s":"a","t":19.08,"v":25},{"s":"a","t":19.18,"v":12.6},{"s":"a","t":19.28,"v":11.2},{"s":"a","t":19.41,"v":14},{"s":"a","t":19.54,"v":12.6},{"s":"a","t":19.64,"v":20},{"s":"a","t":19.74,"v":40},{"s":"a","t":19.87,"v":50},{"s":"a","t":19.97,"v":35},{"s":"a","t":20.05,"v":16},{"s":"a","t":20.18,"v":11.2},{"s":"a","t":20.31,"v":12.6},{"s":"a","t":20.44,"v":20},{"s":"a","t":20.56,"v":50},{"s":"a","t":20.69,"v":63},{"s":"a","t":20.82,"v":56},{"s":"a","t":20.95,"v":32},{"s":"a","t":21.08,"v":16},{"s":"a","t":21.26,"v":11.2},{"s":"a","t":21.46,"v":14},{"s":"a","t":21.64,"v":22},{"s":"a","t":21.79,"v":40},{"s":"a","t":21.95,"v":63},{"s":"a","t":22.1,"v":56},{"s":"a","t":22.23,"v":40},{"s":"a","t":22.41,"v":35},{"s":"a","t":22.62,"v":40},{"s":"a","t":22.79,"v":42},{"s":"a","t":22.92,"v":63},{"s":"a","t":23.05,"v":71},{"s":"a","t":23.18,"v":56},{"s":"a","t":23.31,"v":45},{"s":"a","t":23.44,"v":48},{"s":"a","t":23.59,"v":56},{"s":"a","t":23.72,"v":79},{"s":"a","t":23.9,"v":83},{"s":"a","t":24.03,"v":71},{"s":"a","t":24.15,"v":56},{"s":"a","t":24.33,"v":50},{"s":"a","t":24.46,"v":40},{"s":"a","t":24.62,"v":20},{"s":"a","t":24.72,"v":16},{"s":"a","t":24.82,"v":12.6},{"s":"a","t":24.92,"v":11.2},{"s":"a","t":25.0,"v":7.9},
{"s":"b","t":25.69,"v":8.9},{"s":"b","t":25.74,"v":25},{"s":"b","t":25.79,"v":32},{"s":"b","t":25.85,"v":16},{"s":"b","t":25.9,"v":7.9}]
},
"vconcat":[
{"width":585,"height":45,"layer":[
{"data":{"name":"flares"},"mark":{"type":"bar","color":"#ff00ff","size":1.6,"clip":true},
"encoding":{"x":{"field":"t","type":"quantitative","scale":{"domain":[16,31],"nice":false,"zero":false},"axis":{"title":null,"values":[17,18,19,20,21,22,23,24,25,26,27,28,29,30],"labels":false,"grid":true}},
"y":{"field":"v","type":"quantitative","scale":{"domain":[0,4],"nice":false},"axis":{"title":null,"values":[1,2,3],"grid":true,"labelExpr":"datum.value==1?'C':(datum.value==2?'M':'X')"}}}}]},
{"width":585,"height":45,"layer":[
{"data":{"name":"speed"},"mark":{"type":"line","color":"#00ff00","strokeWidth":2.5,"clip":true},
"encoding":{"x":{"field":"t","type":"quantitative","scale":{"domain":[16,31],"nice":false,"zero":false},"axis":{"title":null,"values":[17,18,19,20,21,22,23,24,25,26,27,28,29,30],"labels":false,"grid":true}},
"y":{"field":"v","type":"quantitative","scale":{"domain":[300,800],"nice":false,"zero":false},"axis":{"title":null,"values":[400,500,600,700],"grid":true}},
"detail":{"field":"s"}}}]},
{"width":585,"height":45,"layer":[
{"data":{"name":"phi"},"mark":{"type":"rule","color":"#f5e49c","strokeWidth":2.8,"clip":true},
"encoding":{"x":{"field":"t","type":"quantitative","scale":{"domain":[16,31],"nice":false,"zero":false},"axis":{"title":null,"values":[17,18,19,20,21,22,23,24,25,26,27,28,29,30],"labels":false,"grid":true}},
"y":{"field":"lo","type":"quantitative","scale":{"domain":[0,360],"nice":false,"zero":false},"axis":{"title":null,"values":[90,270],"grid":true,"labelExpr":"datum.value==90?'A':'T'"}},
"y2":{"field":"hi"}}},
{"mark":{"type":"rule","color":"#c00000","strokeWidth":1.5},"encoding":{"y":{"datum":180}}},
{"data":{"name":"sector"},"mark":{"type":"line","color":"#0000ff","strokeWidth":1.5,"clip":true},
"encoding":{"x":{"field":"t","type":"quantitative"},"y":{"field":"v","type":"quantitative"}}}]},
{"width":585,"height":45,"layer":[
{"data":{"name":"bt"},"mark":{"type":"line","color":"#0000ff","strokeWidth":2.5,"clip":true},
"encoding":{"x":{"field":"t","type":"quantitative","scale":{"domain":[16,31],"nice":false,"zero":false},"axis":{"title":null,"values":[17,18,19,20,21,22,23,24,25,26,27,28,29,30],"labels":false,"grid":true}},
"y":{"field":"v","type":"quantitative","scale":{"domain":[-20,20],"nice":false,"zero":false},"axis":{"title":null,"values":[-10,0,10],"grid":true}},
"detail":{"field":"s"}}},
{"data":{"name":"bz"},"mark":{"type":"rule","color":"#ff0000","strokeWidth":2.6,"clip":true},
"encoding":{"x":{"field":"t","type":"quantitative"},"y":{"field":"lo","type":"quantitative"},"y2":{"field":"hi"}}},
{"mark":{"type":"rule","color":"#b00000","strokeWidth":1.3},"encoding":{"y":{"datum":0}}}]},
{"width":585,"height":45,"layer":[
{"data":{"name":"dst"},"mark":{"type":"line","color":"#ff00ff","strokeWidth":1.5,"clip":true},
"encoding":{"x":{"field":"t","type":"quantitative","scale":{"domain":[16,31],"nice":false,"zero":false},"axis":{"title":null,"values":[17,18,19,20,21,22,23,24,25,26,27,28,29,30],"labels":false,"grid":true}},
"y":{"field":"v","type":"quantitative","scale":{"domain":[-200,100],"nice":false,"zero":false},"axis":{"title":null,"values":[-100,0],"grid":true}}}},
{"mark":{"type":"rule","color":"#b00000","strokeWidth":1.3},"encoding":{"y":{"datum":0}}}]},
{"width":585,"height":45,"layer":[
{"data":{"name":"kp"},"mark":{"type":"line","color":"#00ffff","strokeWidth":1.5,"clip":true},
"encoding":{"x":{"field":"t","type":"quantitative","scale":{"domain":[16,31],"nice":false,"zero":false},"axis":{"title":null,"values":[17,18,19,20,21,22,23,24,25,26,27,28,29,30],"labels":false,"grid":true}},
"y":{"field":"v","type":"quantitative","scale":{"domain":[0,80],"nice":false,"zero":false},"axis":{"title":null,"values":[20,40,60],"grid":true}}}}]},
{"width":585,"height":45,"layer":[
{"data":{"name":"elec"},"mark":{"type":"line","color":"#0000ff","strokeWidth":1.8,"clip":true},
"encoding":{"x":{"field":"t","type":"quantitative","scale":{"domain":[16,31],"nice":false,"zero":false},"axis":{"title":null,"values":[16,17,18,19,20,21,22,23,24,25,26,27,28,29,30],"grid":true,"labels":true,"labelExpr":"'3/' + datum.value","labelOffset":19.5,"labelFlush":false,"labelPadding":4,"labelFontSize":12}},
"y":{"field":"v","type":"quantitative","scale":{"type":"log","domain":[10,100000],"nice":false},"axis":{"title":null,"values":[100,1000,10000],"grid":true,"labelExpr":"datum.value==100?'10²':(datum.value==1000?'10³':'10⁴')"}},
"detail":{"field":"s"}}},
{"mark":{"type":"rule","color":"#b00000","strokeWidth":1.3,"strokeDash":[10,4]},"encoding":{"y":{"datum":10000}}}]}
]
}
